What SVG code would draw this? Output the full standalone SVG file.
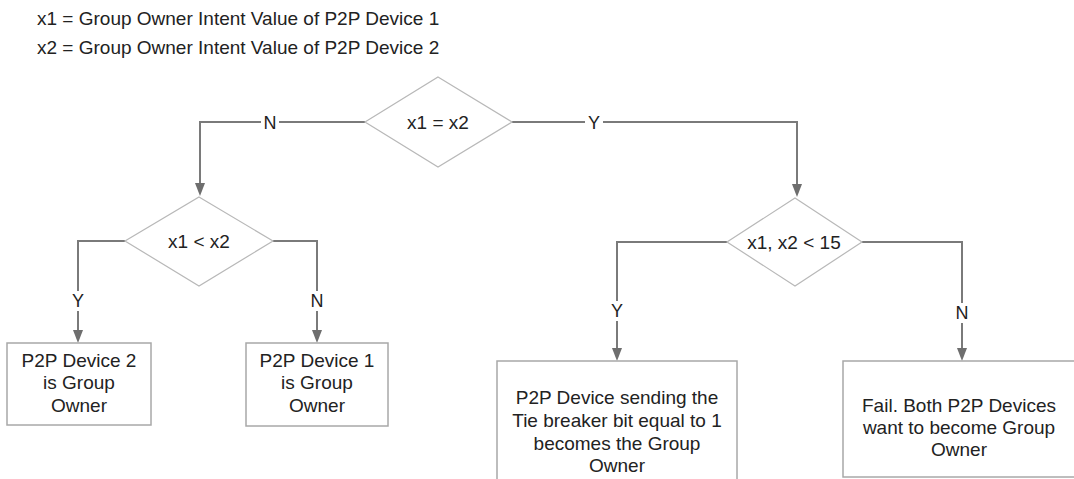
<svg xmlns="http://www.w3.org/2000/svg" width="1074" height="479" viewBox="0 0 1074 479">
<defs>
<style>
text{font-family:"Liberation Sans",Arial,sans-serif;fill:#222;}
.hdr{font-size:19px;}
.t{font-size:19px;text-anchor:middle;}
.d{font-size:19px;text-anchor:middle;}
.lbl{font-size:18px;text-anchor:middle;}
.dia{fill:#fff;stroke:#b8b8b8;stroke-width:1.2;}
.box{fill:#fff;stroke:#a8a8a8;stroke-width:1.5;}
.con{fill:none;stroke:#7a7a7a;stroke-width:2;}
.ah{fill:#6e6e6e;}
.lb{fill:#fff;}
</style>
</defs>
<rect width="1074" height="479" fill="#fff"/>
<text class="hdr" x="37" y="25">x1 = Group Owner Intent Value of P2P Device 1</text>
<text class="hdr" x="37" y="54">x2 = Group Owner Intent Value of P2P Device 2</text>
<g id="connectors">
<path class="con" d="M365,122 H200 V184"/>
<path class="ah" d="M195,183 L205,183 L200,196 Z"/>
<path class="con" d="M512,122 H797 V185"/>
<path class="ah" d="M792,184 L802,184 L797,197 Z"/>
<path class="con" d="M125,241 H78 V331"/>
<path class="ah" d="M73,330 L83,330 L78,343 Z"/>
<path class="con" d="M273,241 H317 V331"/>
<path class="ah" d="M312,330 L322,330 L317,343 Z"/>
<path class="con" d="M727,242 H617 V349"/>
<path class="ah" d="M612,348 L622,348 L617,361 Z"/>
<path class="con" d="M862,242 H962 V349"/>
<path class="ah" d="M957,348 L967,348 L962,361 Z"/>
<rect class="lb" x="261" y="113" width="18" height="19"/>
<text class="lbl" x="270" y="129">N</text>
<rect class="lb" x="585" y="113" width="18" height="19"/>
<text class="lbl" x="594" y="129">Y</text>
<rect class="lb" x="69" y="291" width="18" height="20"/>
<text class="lbl" x="78" y="307">Y</text>
<rect class="lb" x="308" y="291" width="18" height="20"/>
<text class="lbl" x="317" y="307">N</text>
<rect class="lb" x="608" y="301" width="18" height="20"/>
<text class="lbl" x="617" y="317">Y</text>
<rect class="lb" x="953" y="303" width="18" height="20"/>
<text class="lbl" x="962" y="319">N</text>
</g>
<g id="d1">
<polygon class="dia" points="438,77 512,122 438,167 365,122"/>
<text class="d" x="438" y="129">x1 = x2</text>
</g>
<g id="d2">
<polygon class="dia" points="199,197 273,241 199,286 125,241"/>
<text class="d" x="199" y="248">x1 &lt; x2</text>
</g>
<g id="d3">
<polygon class="dia" points="795,198 862,242 795,286 727,242"/>
<text class="d" x="794" y="249">x1, x2 &lt; 15</text>
</g>
<g id="b1">
<rect class="box" x="7" y="343" width="144" height="82"/>
<text class="t" x="79" y="367">P2P Device 2</text>
<text class="t" x="79" y="389">is Group</text>
<text class="t" x="79" y="412">Owner</text>
</g>
<g id="b2">
<rect class="box" x="246" y="343" width="142" height="83"/>
<text class="t" x="317" y="367">P2P Device 1</text>
<text class="t" x="317" y="389">is Group</text>
<text class="t" x="317" y="412">Owner</text>
</g>
<g id="b3">
<rect class="box" x="497" y="361" width="240" height="130"/>
<text class="t" x="617" y="404">P2P Device sending the</text>
<text class="t" x="617" y="427">Tie breaker bit equal to 1</text>
<text class="t" x="617" y="450">becomes the Group</text>
<text class="t" x="617" y="472">Owner</text>
</g>
<g id="b4">
<rect class="box" x="843" y="361" width="234" height="116"/>
<text class="t" x="959" y="412">Fail. Both P2P Devices</text>
<text class="t" x="959" y="434">want to become Group</text>
<text class="t" x="959" y="456">Owner</text>
</g>
</svg>
